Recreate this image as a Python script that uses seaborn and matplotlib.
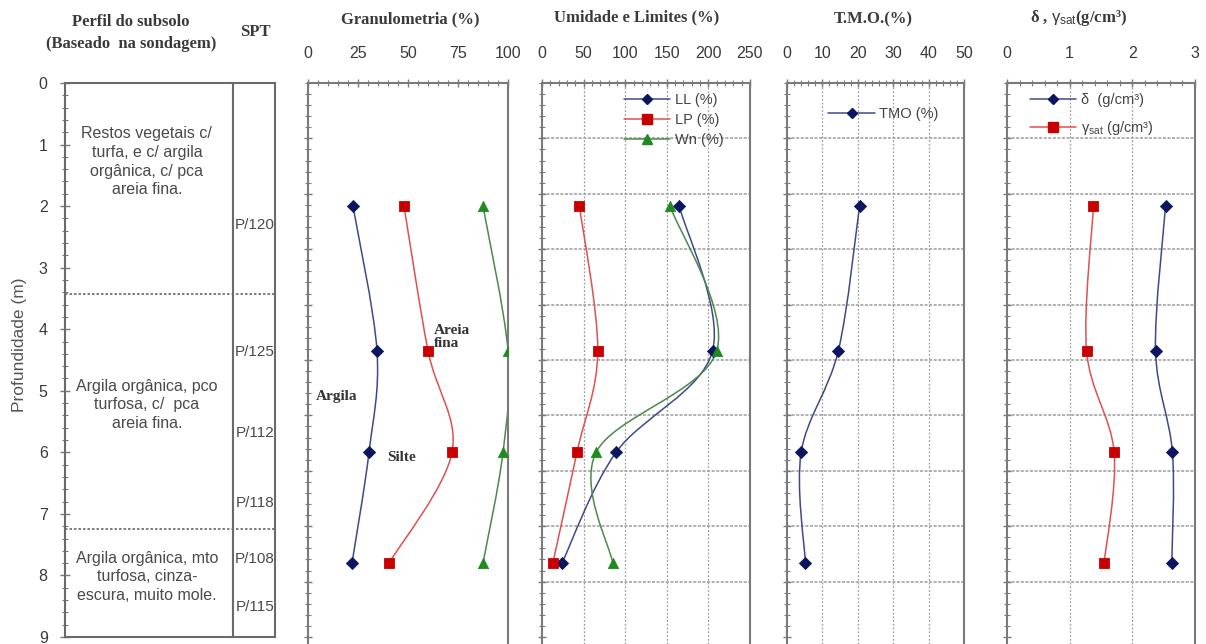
import numpy as np
import pandas as pd
import matplotlib
matplotlib.use("Agg")
import matplotlib.pyplot as plt
import seaborn as sns
from matplotlib.path import Path
from matplotlib.patches import PathPatch
from matplotlib.lines import Line2D
from matplotlib.ticker import MultipleLocator, FixedLocator, NullFormatter

# ---- data -------------------------------------------------------------
depth = [2.0, 4.35, 6.0, 7.8]

# grain size, cumulative percentages
argila = [22.5, 34.5, 30.5, 22.0]
silte = [48.0, 60.0, 72.0, 40.5]
areia_fina = [87.5, 100.0, 97.5, 87.5]

# moisture content and Atterberg limits (%)
ll = [165, 205, 89, 24]
lp = [45, 67, 42, 13]
wn = [154, 210, 65, 85]

# organic matter content (%)
tmo = [20.5, 14.5, 4.0, 5.2]

# unit weights (g/cm3)
delta = [2.53, 2.37, 2.64, 2.63]
gamma_sat = [1.38, 1.27, 1.71, 1.55]

# soil profile
layer_bounds = [3.42, 7.24]
layer_centers = [1.28, 5.23, 8.02]
layer_text = [
    "Restos vegetais c/\nturfa, e c/ argila\norgânica, c/ pca\nareia fina.",
    "Argila orgânica, pco\nturfosa, c/  pca\nareia fina.",
    "Argila orgânica, mto\nturfosa, cinza-\nescura, muito mole.",
]
spt_depth = [2.3, 4.37, 5.68, 6.82, 7.73, 8.52]
spt_label = ["P/120", "P/125", "P/112", "P/118", "P/108", "P/115"]

depth_ticks = list(range(0, 10))

# ---- style ------------------------------------------------------------
sns.set_style("white")
plt.rcParams["font.family"] = ["Liberation Sans", "DejaVu Sans"]
plt.rcParams["mathtext.fontset"] = "custom"
plt.rcParams["mathtext.rm"] = "Liberation Sans"
plt.rcParams["mathtext.it"] = "Liberation Sans"

TXT = "#3a3a3a"
SPINE = "#7a7a7a"
GRID = "#9c9c9c"
NAVY = "#0c1660"
NAVY_LINE = "#3d4a8a"
RED = "#c80000"
RED_LINE = "#e05050"
GREEN = "#1f8a1f"
GREEN_LINE = "#4a8a4a"
TITLE_FONT = dict(family=["Liberation Serif", "DejaVu Serif"], weight="bold",
                  size=12, color=TXT)

W, H = 1206, 644
TOP, BOTTOM = 83, 637          # pixel rows of depth 0 m and 9 m
PX_PER_M = (BOTTOM - TOP) / 9.0
fig = plt.figure(figsize=(W / 100, H / 100), dpi=100)


def box(left, right, top=TOP, bottom=BOTTOM):
    return [left / W, 1 - bottom / H, (right - left) / W, (bottom - top) / H]


def smooth(ax, x, y, color, lw=1.1):
    """Smoothed connecting line through the points (Catmull-Rom as Bezier)."""
    pts = np.column_stack([x, y]).astype(float)
    n = len(pts)
    verts = [pts[0]]
    codes = [Path.MOVETO]
    for i in range(n - 1):
        p0 = pts[i - 1] if i > 0 else pts[i]
        p1, p2 = pts[i], pts[i + 1]
        p3 = pts[i + 2] if i + 2 < n else pts[i + 1]
        verts += [p1 + (p2 - p0) / 6, p2 - (p3 - p1) / 6, p2]
        codes += [Path.CURVE4] * 3
    ax.add_patch(PathPatch(Path(verts, codes), facecolor="none",
                           edgecolor=color, lw=lw, zorder=2))


def series(ax, x, marker, face, line, size):
    smooth(ax, x, depth, line)
    df = pd.DataFrame({"v": x, "z": depth})
    sns.scatterplot(data=df, x="v", y="z", ax=ax, marker=marker, s=size,
                    color=face, edgecolor=face, linewidth=0.6, zorder=3)
    ax.set_xlabel("")
    ax.set_ylabel("")


def frame(ax, xmax, major, minor, grid):
    ax.set_xlim(0, xmax)
    # data panels run past the bottom edge of the figure
    ax.set_ylim(9 + (H - BOTTOM) / PX_PER_M, 0)
    ax.spines["bottom"].set_visible(False)
    ax.xaxis.tick_top()
    ax.xaxis.set_major_locator(MultipleLocator(major))
    ax.xaxis.set_minor_locator(MultipleLocator(minor))
    ax.yaxis.set_major_locator(FixedLocator([0.9 * k for k in range(1, 11)]))
    ax.yaxis.set_minor_locator(MultipleLocator(0.18))
    ax.yaxis.set_major_formatter(NullFormatter())
    ax.tick_params(axis="x", which="both", direction="inout", top=True,
                   bottom=False, colors=SPINE, labelcolor=TXT, labelsize=11.5,
                   pad=13)
    ax.tick_params(axis="x", which="major", length=6, width=1)
    ax.tick_params(axis="x", which="minor", length=4, width=0.8)
    ax.tick_params(axis="y", which="both", direction="inout", left=True,
                   right=False, colors=SPINE)
    ax.tick_params(axis="y", which="major", length=6, width=1)
    ax.tick_params(axis="y", which="minor", length=4, width=0.8)
    for s in ax.spines.values():
        s.set_color(SPINE)
        s.set_linewidth(1.5)
    if grid:
        for v in np.arange(major, xmax - 1e-9, major):
            ax.axvline(v, color=GRID, lw=0.9, ls=(0, (1.5, 1.5)), zorder=0)
        for d in [0.9 * k for k in range(1, 10)]:
            ax.axhline(d, color=GRID, lw=1.1, ls=(0, (2, 1)), zorder=0)


# ---- panel 1: soil profile -------------------------------------------
ax1 = fig.add_axes(box(65, 275))
ax1.set_xlim(0, 1)
ax1.set_ylim(9, 0)
ax1.set_xticks([])
ax1.yaxis.set_major_locator(FixedLocator(depth_ticks))
ax1.yaxis.set_minor_locator(MultipleLocator(0.2))
ax1.tick_params(axis="y", which="both", direction="inout", left=True,
                colors=SPINE, labelcolor=TXT, labelsize=11.5, pad=9)
ax1.tick_params(axis="y", which="major", length=7, width=1)
ax1.tick_params(axis="y", which="minor", length=4, width=0.8)
for s in ax1.spines.values():
    s.set_color("#6a6a6a")
    s.set_linewidth(1.5)
ax1.axvline(0.8, color="#6a6a6a", lw=1.5)
for b in layer_bounds:
    ax1.axhline(b, color="#6a6a6a", lw=1.2, ls=(0, (1.5, 1.2)))
for zc, t in zip(layer_centers, layer_text):
    ax1.text(0.39, zc, t, ha="center", va="center", fontsize=11.5,
             color="#4a4a4a", linespacing=1.3)
for zc, t in zip(spt_depth, spt_label):
    ax1.text(0.997, zc, t, ha="right", va="center", fontsize=11,
             color="#4a4a4a")

fig.text(20 / W, 1 - 345 / H, "Profundidade (m)", rotation=90, ha="center",
         va="center", fontsize=12.5, color="#555555")
fig.text(131 / W, 1 - 22 / H, "Perfil do subsolo", ha="center", va="center",
         **TITLE_FONT)
fig.text(131 / W, 1 - 44 / H, "(Baseado  na sondagem)", ha="center",
         va="center", **TITLE_FONT)
fig.text(255 / W, 1 - 32 / H, "SPT", ha="center", va="center", **TITLE_FONT)

# ---- panel 2: grain size ---------------------------------------------
ax2 = fig.add_axes(box(308, 508, bottom=H))
frame(ax2, 100, 25, 5, grid=False)
series(ax2, argila, "D", NAVY, NAVY_LINE, 38)
series(ax2, silte, "s", RED, RED_LINE, 60)
series(ax2, areia_fina, "^", GREEN, GREEN_LINE, 55)
lbl = dict(family=["Liberation Serif", "DejaVu Serif"], weight="bold",
           size=11, color="#333333")
ax2.text(63, 4.12, "Areia\nfina", ha="left", va="center", linespacing=1.0,
         **lbl)
ax2.text(4, 5.1, "Argila", ha="left", va="center", **lbl)
ax2.text(39.5, 6.09, "Silte", ha="left", va="center", **lbl)
fig.text(410 / W, 1 - 19 / H, "Granulometria (%)", ha="center", va="center",
         **TITLE_FONT)

# ---- panel 3: moisture and limits ------------------------------------
ax3 = fig.add_axes(box(542, 750, bottom=H))
frame(ax3, 250, 50, 10, grid=True)
series(ax3, ll, "D", NAVY, NAVY_LINE, 38)
series(ax3, lp, "s", RED, RED_LINE, 60)
series(ax3, wn, "^", GREEN, GREEN_LINE, 55)
h3 = [
    Line2D([], [], color=NAVY_LINE, marker="D", mfc=NAVY, mec=NAVY, ms=5, lw=1.1),
    Line2D([], [], color=RED_LINE, marker="s", mfc=RED, mec=RED, ms=7, lw=1.1),
    Line2D([], [], color=GREEN_LINE, marker="^", mfc=GREEN, mec=GREEN, ms=6.5, lw=1.1),
]
leg3 = ax3.legend(h3, ["LL (%)", "LP (%)", "Wn (%)"], loc="upper left",
                  bbox_to_anchor=(0.33, 1.005), frameon=False, fontsize=10.5,
                  handlelength=3.2, labelspacing=0.4, handletextpad=0.3)
for t in leg3.get_texts():
    t.set_color("#444444")
fig.text(637 / W, 1 - 17 / H, "Umidade e Limites (%)", ha="center",
         va="center", **TITLE_FONT)

# ---- panel 4: organic matter -----------------------------------------
ax4 = fig.add_axes(box(787, 964, bottom=H))
frame(ax4, 50, 10, 2, grid=True)
series(ax4, tmo, "D", NAVY, NAVY_LINE, 38)
h4 = [Line2D([], [], color=NAVY_LINE, marker="D", mfc=NAVY, mec=NAVY, ms=5, lw=1.1)]
leg4 = ax4.legend(h4, ["TMO (%)"], loc="center left",
                  bbox_to_anchor=(0.16, 0.945), frameon=False, fontsize=10.5,
                  handlelength=3.2, handletextpad=0.3)
for t in leg4.get_texts():
    t.set_color("#444444")
fig.text(873 / W, 1 - 19 / H, "T.M.O.(%)", ha="center", va="center",
         **TITLE_FONT)

# ---- panel 5: unit weights -------------------------------------------
ax5 = fig.add_axes(box(1007, 1195, bottom=H))
frame(ax5, 3, 1, 0.2, grid=True)
series(ax5, delta, "D", NAVY, NAVY_LINE, 38)
series(ax5, gamma_sat, "s", RED, RED_LINE, 60)
h5 = [
    Line2D([], [], color=NAVY_LINE, marker="D", mfc=NAVY, mec=NAVY, ms=5, lw=1.1),
    Line2D([], [], color=RED_LINE, marker="s", mfc=RED, mec=RED, ms=7, lw=1.1),
]
leg5 = ax5.legend(h5, ["δ  (g/cm³)", r"$\gamma_{sat}$ (g/cm³)"],
                  loc="upper left", bbox_to_anchor=(0.05, 1.005),
                  frameon=False, fontsize=10.5, handlelength=3.2,
                  labelspacing=0.8, handletextpad=0.3)
for t in leg5.get_texts():
    t.set_color("#444444")
fig.text(1078 / W, 1 - 18 / H, r"δ , $\gamma_{sat}$(g/cm³)", ha="center",
         va="center", **TITLE_FONT)

fig.savefig("out.png", dpi=100, facecolor="white")
